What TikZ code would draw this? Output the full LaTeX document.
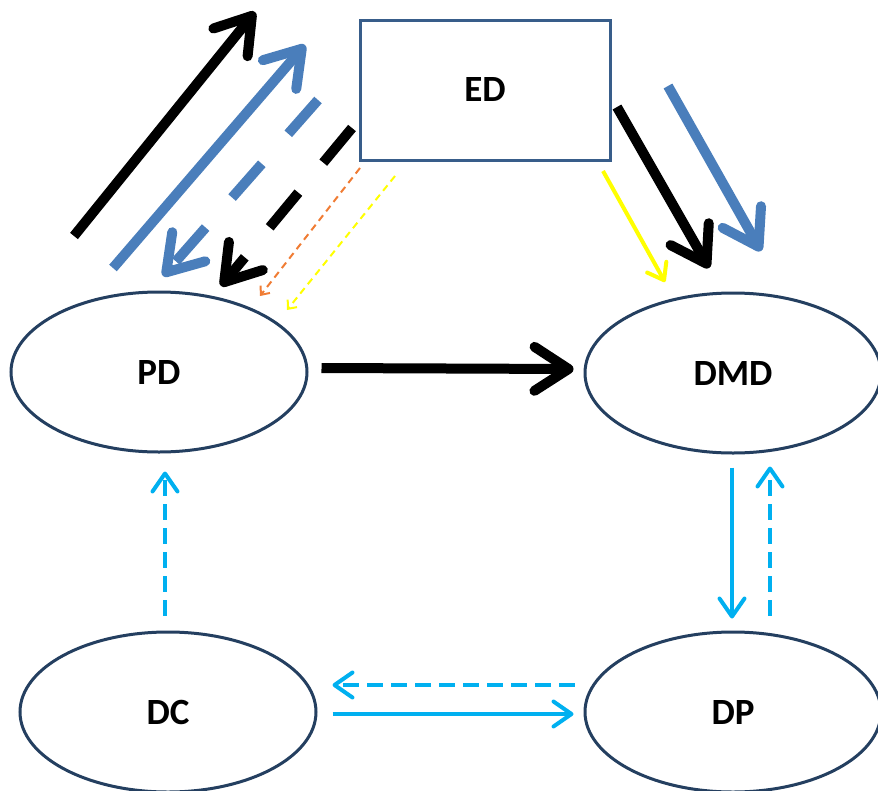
\documentclass[tikz,border=0pt]{standalone}
\usepackage{fontspec}
\setmainfont{Carlito}
\usetikzlibrary{arrows.meta,shapes.geometric,calc}
\definecolor{navy}{HTML}{243F60}
\definecolor{boxblue}{HTML}{385D8A}
\definecolor{midblue}{HTML}{4A7EBB}
\definecolor{cyanb}{HTML}{00B0F0}
\definecolor{yel}{HTML}{FFFF00}
\definecolor{org}{HTML}{F07C34}
\begin{document}
\begin{tikzpicture}[x=1pt,y=-1pt,
  oval/.style={ellipse,draw=navy,line width=3pt,fill=white,minimum width=296pt,minimum height=160pt,inner sep=0pt,font=\bfseries\fontsize{37}{37}\selectfont},
  bigblack/.style={draw=black,line width=10pt,-{Straight Barb[round,length=34pt,width=44pt]}},
  bigblue/.style={draw=midblue,line width=10pt,-{Straight Barb[round,length=34pt,width=44pt]}},
  cyanarr/.style={draw=cyanb,line width=4pt,-{Straight Barb[round,length=18pt,width=25pt]}},
  cyandash/.style={cyanarr,dash pattern=on 16pt off 8pt},
  thinyel/.style={draw=yel,line width=4pt,-{Straight Barb[round,length=15pt,width=22pt]}},
]
\useasboundingbox (0,0) rectangle (878,790);
\node[draw=boxblue,line width=3pt,fill=white,minimum width=250pt,minimum height=140pt,inner sep=0pt,font=\bfseries\fontsize{37}{37}\selectfont] (ED) at (485,90) {ED};
\node[oval] (PD) at (159,372) {\raisebox{-2pt}{PD}};
\node[oval] (DMD) at (733,373) {DMD};
\node[oval] (DC) at (168,712) {\raisebox{-4pt}{DC}};
\node[oval] (DP) at (733,712) {\raisebox{-4pt}{DP}};

% top-left group
\coordinate (k1s) at (74,236); \coordinate (k1e) at (255,12);
\coordinate (b1s) at (113,268); \coordinate (b1e) at (305,45);
\coordinate (b2s) at (318,100); \coordinate (b2e) at (163,276);
\coordinate (k2s) at (352,128); \coordinate (k2e) at (221,286);
\coordinate (o1s) at (360,168); \coordinate (o1e) at (260,296);
\coordinate (y1s) at (395,176); \coordinate (y1e) at (287,310);
\draw[bigblack] (k1s) -- (k1e);
\draw[bigblue] (b1s) -- (b1e);
\draw[bigblue,dash pattern=on 45pt off 40pt] (b2s) -- (b2e);
\draw[bigblack,dash pattern=on 45pt off 39pt] (k2s) -- (k2e);
\draw[draw=org,line width=2pt,dash pattern=on 7pt off 5pt,-{Straight Barb[length=7pt,width=12pt]}] (o1s) -- (o1e);
\draw[draw=yel,line width=2pt,dash pattern=on 7pt off 5pt,-{Straight Barb[length=7pt,width=12pt]}] (y1s) -- (y1e);

% top-right group
\coordinate (k3s) at (617,107); \coordinate (k3e) at (709,268);
\coordinate (b3s) at (668,86); \coordinate (b3e) at (761,251);
\coordinate (y2s) at (603,171); \coordinate (y2e) at (665,282);
\draw[bigblack] (k3s) -- (k3e);
\draw[bigblue] (b3s) -- (b3e);
\draw[thinyel] (y2s) -- (y2e);

% PD -> DMD
\draw[bigblack] ($(PD.east)+(13,-4)$) -- ($(DMD.west)+(-10,-4)$);

% cyan
\draw[cyanarr] ($(DMD.south)+(-1,13)$) -- ($(DP.north)+(-1,-12)$);
\draw[cyandash] ($(DP.north)+(37,-15)$) -- ($(DMD.south)+(37,12)$);
\draw[cyandash] ($(DP.west)+(-9,-27)$) -- ($(DC.east)+(15,-27)$);
\draw[cyanarr] ($(DC.east)+(15,2)$) -- ($(DP.west)+(-10,2)$);
\draw[cyandash] ($(DC.north)+(-3,-15)$) -- ($(PD.south)+(6,18)$);
\end{tikzpicture}
\end{document}
